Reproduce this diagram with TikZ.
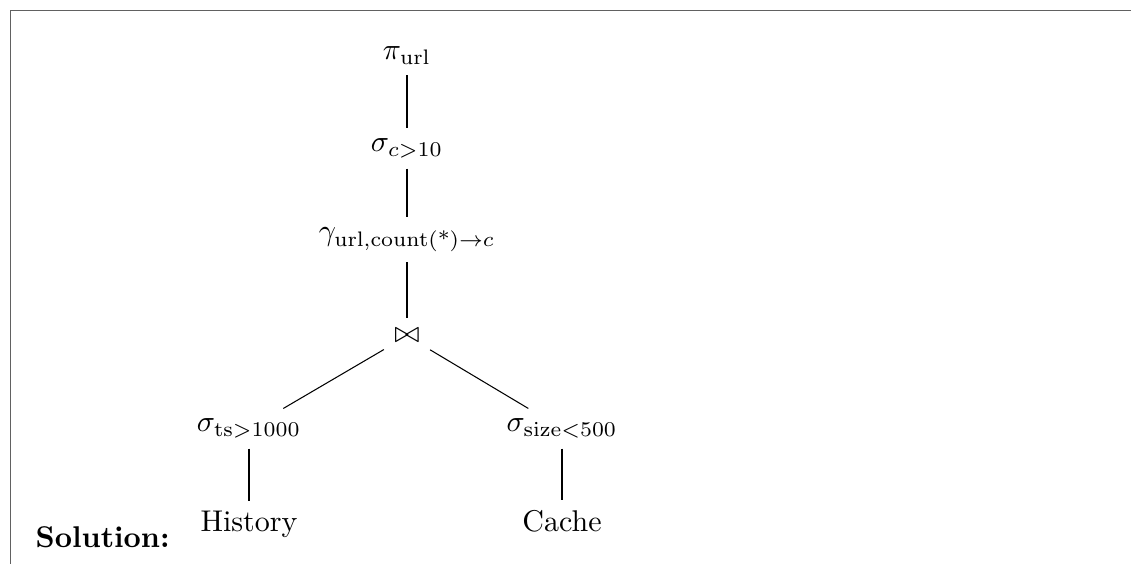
\documentclass[tikz,border=0pt]{standalone}
\usepackage{amsmath}
\begin{document}
\begin{tikzpicture}[x=0.33333pt,y=-0.33333pt,
  op/.style={anchor=base, inner sep=3.33pt},
  edge/.style={draw, line width=0.35pt},
  framecol/.style={draw=black!62, line width=0.6pt}]
\useasboundingbox (0,0) rectangle (1131,564);

% open frame: top and left rules
\coordinate (fl) at (10.5,564);
\coordinate (fc) at (10.5,10.5);
\coordinate (fr) at (1131,10.5);
\draw[framecol] (fl) -- (fc) -- (fr);

% operator tree
\node[op] (pi)    at (407,60)  {$\pi_{\mathrm{url}}$};
\node[op] (selc)  at (407,152) {$\sigma_{c>10}$};
\node[op] (gam)   at (407,241) {$\gamma_{\text{url,count(*)}\rightarrow c}$};
\node[op] (join)  at (407,343) {$\bowtie$};
\node[op] (selts) at (249,432) {$\sigma_{\mathrm{ts}>1000}$};
\node[op] (selsz) at (562,432) {$\sigma_{\mathrm{size}<500}$};
\node[op] (hist)  at (249,532) {History};
\node[op] (cache) at (562,532) {Cache};

\node[anchor=base west, inner sep=0pt] (sol) at (35,548) {\textbf{Solution:}};

\draw[edge] (pi) -- (selc);
\draw[edge] (selc) -- (gam);
\draw[edge] (gam) -- (join);
\draw[edge] (join) -- (selts);
\draw[edge] (join) -- (selsz);
\draw[edge] (selts) -- (hist);
\draw[edge] (selsz) -- (cache);
\end{tikzpicture}
\end{document}
